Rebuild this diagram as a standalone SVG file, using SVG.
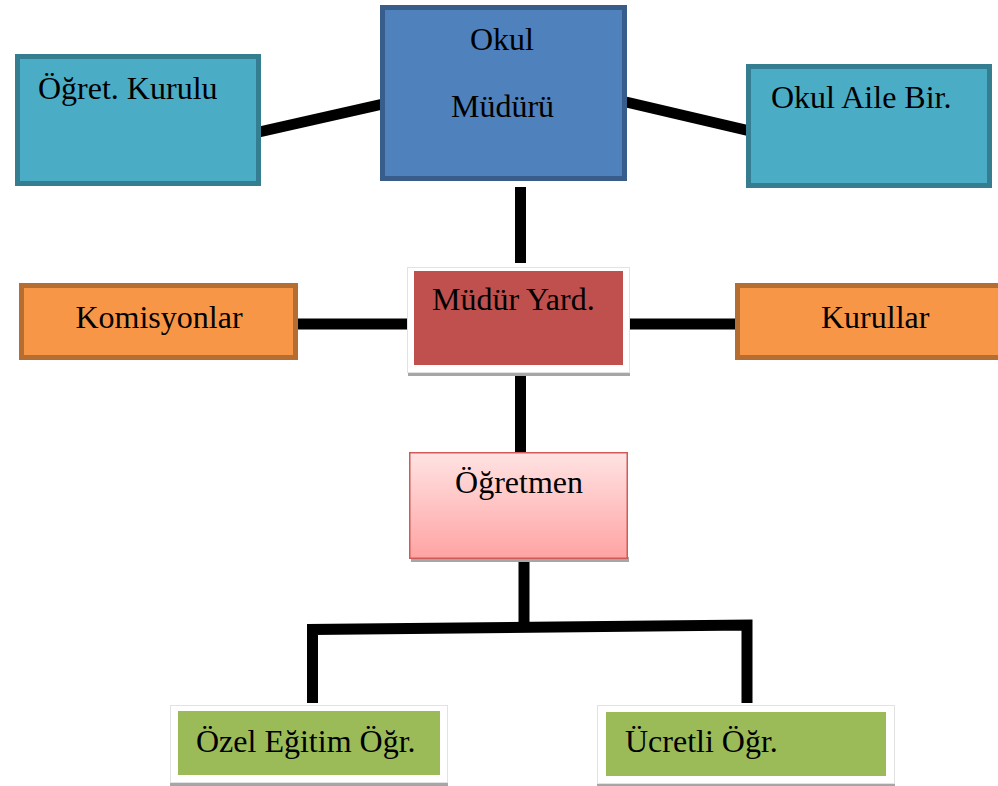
<svg xmlns="http://www.w3.org/2000/svg" width="998" height="786" viewBox="0 0 998 786">
<style>
text{font-family:"Liberation Serif","Times New Roman",serif;font-size:32px;fill:#000}
.teal{fill:#4bacc6;stroke:#357d91;stroke-width:5}
.orange{fill:#f79646;stroke:#b66d31;stroke-width:5}
.frame{fill:#fff;stroke:#e2e2e2;stroke-width:1}
.shadow{fill:#a6a6a6}
.green{fill:#9bbb59}
.conn{fill:none;stroke:#000;stroke-width:11;stroke-linejoin:miter;stroke-linecap:butt}
</style>
<defs>
<linearGradient id="pink" x1="0" y1="0" x2="0" y2="1">
<stop offset="0" stop-color="#ffe3e3"/>
<stop offset="1" stop-color="#ffa3a3"/>
</linearGradient>
</defs>
<g id="connectors">
<line class="conn" x1="259" y1="132" x2="383" y2="104"/>
<line class="conn" x1="626" y1="102" x2="750" y2="131"/>
<line class="conn" x1="520.5" y1="187" x2="520.5" y2="263"/>
<line class="conn" x1="298" y1="324" x2="407" y2="324"/>
<line class="conn" x1="630" y1="324" x2="738" y2="324"/>
<line class="conn" x1="520.5" y1="373" x2="520.5" y2="452"/>
<line class="conn" x1="524" y1="562" x2="524" y2="626"/>
<polyline class="conn" points="312.5,703 312.5,629.5 747,625 747,703"/>
</g>
<g id="okul-muduru">
<rect x="382.5" y="7.5" width="242" height="171" fill="#4f81bd" stroke="#385d8a" stroke-width="5"/>
<text x="502" y="50" text-anchor="middle">Okul</text>
<text x="502.5" y="117" text-anchor="middle">Müdürü</text>
</g>
<g id="ogret-kurulu">
<rect class="teal" x="17.5" y="56.5" width="241" height="127"/>
<text x="38" y="99">Öğret. Kurulu</text>
</g>
<g id="okul-aile-bir">
<rect class="teal" x="748.5" y="66.5" width="241" height="119"/>
<text x="771" y="108">Okul Aile Bir.</text>
</g>
<g id="mudur-yard">
<rect class="shadow" x="408" y="370" width="222" height="6"/>
<rect class="frame" x="407.5" y="267.5" width="222" height="105"/>
<rect x="414" y="271" width="209" height="94" fill="#c0504d"/>
<text x="432" y="310">Müdür Yard.</text>
</g>
<g id="komisyonlar">
<rect class="orange" x="21.5" y="285.5" width="274" height="72"/>
<text x="159" y="328" text-anchor="middle">Komisyonlar</text>
</g>
<g id="kurullar">
<rect class="orange" x="737.5" y="285.5" width="275" height="72"/>
<text x="821" y="328">Kurullar</text>
</g>
<g id="ogretmen">
<rect class="shadow" x="411" y="557" width="218" height="5"/>
<rect x="409.75" y="452.75" width="217.5" height="105.5" fill="url(#pink)" stroke="#d05a57" stroke-width="1.5"/>
<text x="519" y="493" text-anchor="middle">Öğretmen</text>
</g>
<g id="ozel-egitim-ogr">
<rect class="shadow" x="170" y="781" width="278" height="5"/>
<rect class="frame" x="170.5" y="705.5" width="277" height="77"/>
<rect class="green" x="178" y="711" width="262" height="64"/>
<text x="196" y="752">Özel Eğitim Öğr.</text>
</g>
<g id="ucretli-ogr">
<rect class="shadow" x="597" y="782" width="298" height="4"/>
<rect class="frame" x="597.5" y="705.5" width="297" height="78"/>
<rect class="green" x="606" y="712" width="280" height="64"/>
<text x="625" y="752">Ücretli Öğr.</text>
</g>
</svg>
